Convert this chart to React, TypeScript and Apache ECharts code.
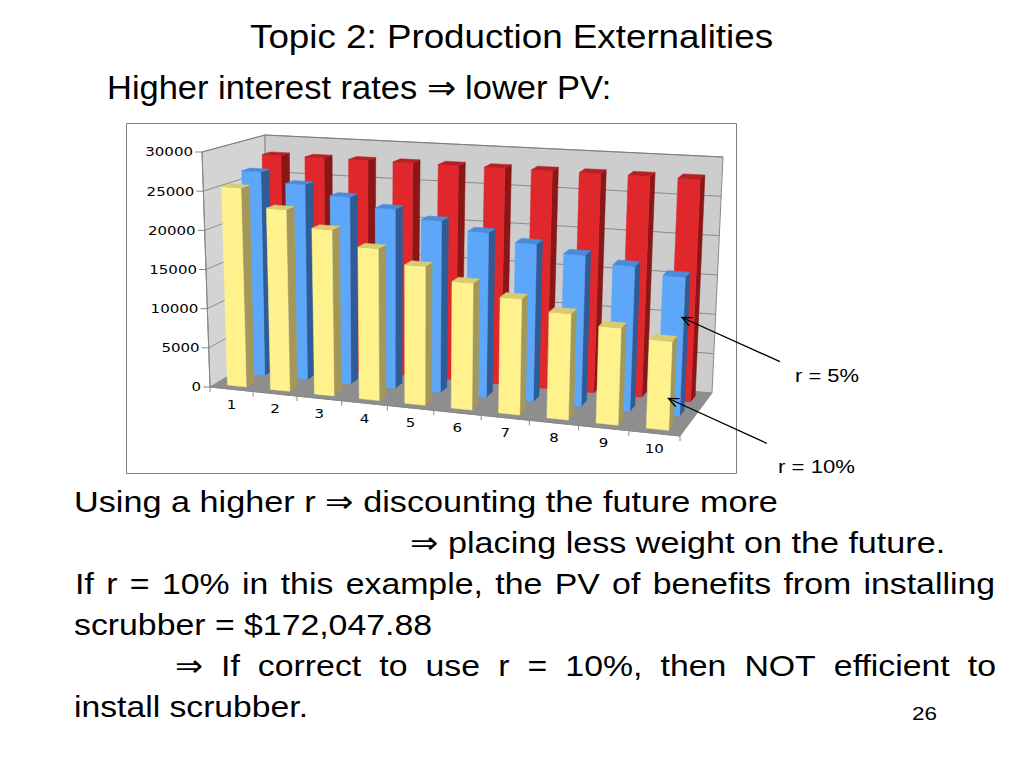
import React, { useEffect, useRef } from "react";
import * as echarts from "echarts";

// ---------- data ----------
const CATEGORIES = ["1", "2", "3", "4", "5", "6", "7", "8", "9", "10"];
const BENEFIT_R0 = [28000, 28000, 28000, 28000, 28000, 28000, 28000, 28000, 28000, 28000];
const PV_R5 = [26667, 25397, 24187, 23036, 21939, 20894, 19899, 18951, 18049, 17189];
const PV_R10 = [25455, 23140, 21037, 19124, 17386, 15805, 14368, 13062, 11875, 10795];
const VALUE_TICKS = [0, 5000, 10000, 15000, 20000, 25000, 30000];

// ---------- 3D look (layout constants) ----------
const C_PERSP = 1.1;
const F0L = [210, 387], F0R = [680, 436], B0L = [267, 353], B0R = [712, 393];
const F1L = [202, 152], F1R = [690, 188], B1L = [265, 135], B1R = [723, 157];
const BAR_W = 0.44;
const DEPTH = 0.14;

const FONT_TXT = '"Liberation Sans", Arial, Helvetica, sans-serif';
const FONT_AX = '"DejaVu Sans", Verdana, sans-serif';

const lerp2 = (a: number[], b: number[], u: number) => [a[0] + (b[0] - a[0]) * u, a[1] + (b[1] - a[1]) * u];
function warp(t: number, v: number, z: number) {
  const s = t / (t + C_PERSP * (1 - t));
  const fb = lerp2(lerp2(F0L, F0R, s), lerp2(B0L, B0R, s), z);
  const ft = lerp2(lerp2(F1L, F1R, s), lerp2(B1L, B1R, s), z);
  return lerp2(fb, ft, v);
}

function measure(text: string, size: number, family: string) {
  const c = document.createElement("canvas").getContext("2d")!;
  c.font = `${size}px ${family}`;
  return c.measureText(text).width;
}

function fitted(text: string, left: number, right: number, baseline: number, size: number) {
  const w = measure(text, size, FONT_TXT);
  const k = (right - left) / w;
  return {
    type: "text", x: left, y: baseline - 0.32 * size, scaleX: k, z: 10,
    style: { text, fontSize: size, fontFamily: FONT_TXT, fill: "#000", align: "left", verticalAlign: "middle" },
  };
}

function justified(text: string, left: number, right: number, baseline: number, size: number, k: number) {
  const words = text.split(" ");
  const ws = words.map((w) => measure(w, size, FONT_TXT) * k);
  const total = ws.reduce((a, b) => a + b, 0);
  const gap = (right - left - total) / (words.length - 1);
  let x = left;
  const out: any[] = [];
  words.forEach((w, i) => {
    out.push({
      type: "text", x, y: baseline - 0.32 * size, scaleX: k, z: 10,
      style: { text: w, fontSize: size, fontFamily: FONT_TXT, fill: "#000", align: "left", verticalAlign: "middle" },
    });
    x += ws[i] + gap;
  });
  return out;
}

function arrow(x1: number, y1: number, x2: number, y2: number) {
  const ang = Math.atan2(y1 - y2, x1 - x2);
  const L = 11, a = 0.42;
  const p1 = [x2 + L * Math.cos(ang + a), y2 + L * Math.sin(ang + a)];
  const p2 = [x2 + L * Math.cos(ang - a), y2 + L * Math.sin(ang - a)];
  return [
    { type: "line", z: 10, shape: { x1, y1, x2, y2 }, style: { stroke: "#000", lineWidth: 1.3 } },
    { type: "polyline", z: 10, shape: { points: [p1, [x2, y2], p2] }, style: { stroke: "#000", lineWidth: 1.3, fill: "none" } },
  ];
}

const poly = (points: number[][], fill: string, stroke?: string) => ({
  type: "polygon",
  shape: { points },
  style: { fill, stroke: stroke || fill, lineWidth: stroke ? 1 : 0.5 },
});

function makeBarRender(zc: number, col: { front: string; side: string; top: string }) {
  return (params: any, api: any) => {
    const cs = params.coordSys;
    const i = api.value(0);
    const val = api.value(1);
    const base = api.coord([i, 0]);
    const top = api.coord([i, val]);
    const band = api.size([1, 0])[0];
    const tc = (base[0] - cs.x) / cs.width;
    const hw = (BAR_W * band) / cs.width / 2;
    const tv = (cs.y + cs.height - top[1]) / cs.height;
    const x0 = tc - hw, x1 = tc + hw, z0 = zc - DEPTH / 2, z1 = zc + DEPTH / 2;
    const front = [warp(x0, 0, z0), warp(x1, 0, z0), warp(x1, tv, z0), warp(x0, tv, z0)];
    const side = [warp(x1, 0, z0), warp(x1, 0, z1), warp(x1, tv, z1), warp(x1, tv, z0)];
    const topF = [warp(x0, tv, z0), warp(x1, tv, z0), warp(x1, tv, z1), warp(x0, tv, z1)];
    return {
      type: "group",
      children: [poly(side, col.side), poly(front, col.front), poly(topF, col.top)],
    };
  };
}

function frameRender(params: any, api: any) {
  const cs = params.coordSys;
  const value = api.value(1);
  const pt = api.coord([0, value]);
  const tv = (cs.y + cs.height - pt[1]) / cs.height;
  const children: any[] = [];
  if (params.dataIndex === 0) {
    children.push(poly([warp(0, 0, 0), warp(1, 0, 0), warp(1, 0, 1), warp(0, 0, 1)], "#8e8e8e", "#8e8e8e"));
    children.push(poly([warp(0, 0, 0), warp(0, 0, 1), warp(0, 1, 1), warp(0, 1, 0)], "#d4d4d4", "#8a8a8a"));
    children.push(poly([warp(0, 0, 1), warp(1, 0, 1), warp(1, 1, 1), warp(0, 1, 1)], "#cdcdcd", "#8a8a8a"));
    const a0 = warp(0, 0, 0), a1 = warp(0, 1, 0);
    children.push({ type: "line", shape: { x1: a0[0], y1: a0[1], x2: a1[0], y2: a1[1] }, style: { stroke: "#888", lineWidth: 1 } });
    const e1 = warp(1, 0, 0);
    children.push({ type: "line", shape: { x1: a0[0], y1: a0[1], x2: e1[0], y2: e1[1] }, style: { stroke: "#888", lineWidth: 1 } });
  }
  if (value > 0) {
    children.push({
      type: "polyline",
      shape: { points: [warp(0, tv, 0), warp(0, tv, 1), warp(1, tv, 1)] },
      style: { stroke: "#7a7a7a", lineWidth: 0.8, fill: "none" },
    });
  }
  const ax = warp(0, tv, 0);
  children.push({ type: "line", shape: { x1: ax[0] - 7, y1: ax[1], x2: ax[0], y2: ax[1] }, style: { stroke: "#888", lineWidth: 1 } });
  children.push({
    type: "text", x: ax[0] - 9, y: ax[1], scaleX: 1.25,
    style: { text: String(value), fontSize: 12, fontFamily: FONT_AX, fill: "#000", align: "right", verticalAlign: "middle" },
  });
  return { type: "group", children };
}

function xLabelRender(params: any, api: any) {
  const cs = params.coordSys;
  const i = api.value(0);
  const base = api.coord([i, 0]);
  const band = api.size([1, 0])[0] / cs.width;
  const tc = (base[0] - cs.x) / cs.width;
  const children: any[] = [];
  const bounds = [tc - band / 2];
  if (params.dataIndex === CATEGORIES.length - 1) bounds.push(tc + band / 2);
  bounds.forEach((tb) => {
    const p = warp(tb, 0, 0);
    children.push({ type: "line", shape: { x1: p[0], y1: p[1], x2: p[0], y2: p[1] + 5 }, style: { stroke: "#888", lineWidth: 1 } });
  });
  const c = warp(tc, 0, 0);
  children.push({
    type: "text", x: c[0], y: c[1] + 15, scaleX: 1.25,
    style: { text: CATEGORIES[params.dataIndex], fontSize: 12, fontFamily: FONT_AX, fill: "#000", align: "center", verticalAlign: "middle" },
  });
  return { type: "group", children };
}

export default function App() {
  const ref = useRef<HTMLDivElement>(null);
  useEffect(() => {
    if (!ref.current) return;
    const chart = echarts.init(ref.current, undefined, { renderer: "svg" });
    const bodySize = 30.3;
    const line4 = "scrubber = $172,047.88";
    const k4 = 358 / measure(line4, bodySize, FONT_TXT);
    const texts: any[] = [
      fitted("Topic 2: Production Externalities", 250, 773, 47.5, 32.6),
      fitted("Higher interest rates \u21D2 lower PV:", 107, 612, 98.5, 32.6),
      fitted("Using a higher r \u21D2 discounting the future more", 74, 778, 511.5, bodySize),
      fitted("\u21D2 placing less weight on the future.", 410, 945, 552.5, bodySize),
      ...justified("If r = 10% in this example, the PV of benefits from installing", 75, 995, 593.5, bodySize, k4),
      fitted(line4, 74, 432, 634.5, bodySize),
      ...justified("\u21D2 If correct to use r = 10%, then NOT efficient to", 175, 996, 675.5, bodySize, k4),
      fitted("install scrubber.", 74, 308, 716, bodySize),
      fitted("r = 5%", 795, 859, 381.7, 18.6),
      fitted("r = 10%", 778, 855, 471.7, 18.6),
      fitted("26", 912, 937, 720, 18),
      { type: "rect", z: 0, shape: { x: 126.5, y: 123.5, width: 610, height: 350 }, style: { fill: "none", stroke: "#7f7f7f", lineWidth: 1 } },
      ...arrow(780, 361.7, 682, 317.5),
      ...arrow(766.7, 443.3, 668.5, 398.5),
    ];
    chart.setOption({
      animation: false,
      backgroundColor: "#ffffff",
      graphic: { elements: texts },
      grid: { left: 210, right: 344, top: 152, bottom: 381, containLabel: false },
      xAxis: { type: "category", data: CATEGORIES, show: false },
      yAxis: { type: "value", min: 0, max: 30000, interval: 5000, show: false },
      series: [
        { type: "custom", name: "frame", z: 1, clip: false, renderItem: frameRender, data: VALUE_TICKS.map((v) => [0, v]) },
        { type: "custom", name: "categories", z: 1, clip: false, renderItem: xLabelRender, data: CATEGORIES.map((c, i) => [i, 0]) },
        { type: "custom", name: "r = 0%", z: 2, clip: false, renderItem: makeBarRender(5 / 6, { front: "#e0282c", side: "#8a1616", top: "#b81e22" }), data: BENEFIT_R0.map((v, i) => [i, v]) },
        { type: "custom", name: "r = 5%", z: 3, clip: false, renderItem: makeBarRender(1 / 2, { front: "#5da7fa", side: "#2f5c96", top: "#4a8bda" }), data: PV_R5.map((v, i) => [i, v]) },
        { type: "custom", name: "r = 10%", z: 4, clip: false, renderItem: makeBarRender(1 / 6, { front: "#fff28c", side: "#a3985a", top: "#d8cc72" }), data: PV_R10.map((v, i) => [i, v]) },
      ],
    });
    return () => chart.dispose();
  }, []);
  return <div ref={ref} style={{ position: "absolute", left: 0, top: 0, width: 1024, height: 768 }} />;
}
